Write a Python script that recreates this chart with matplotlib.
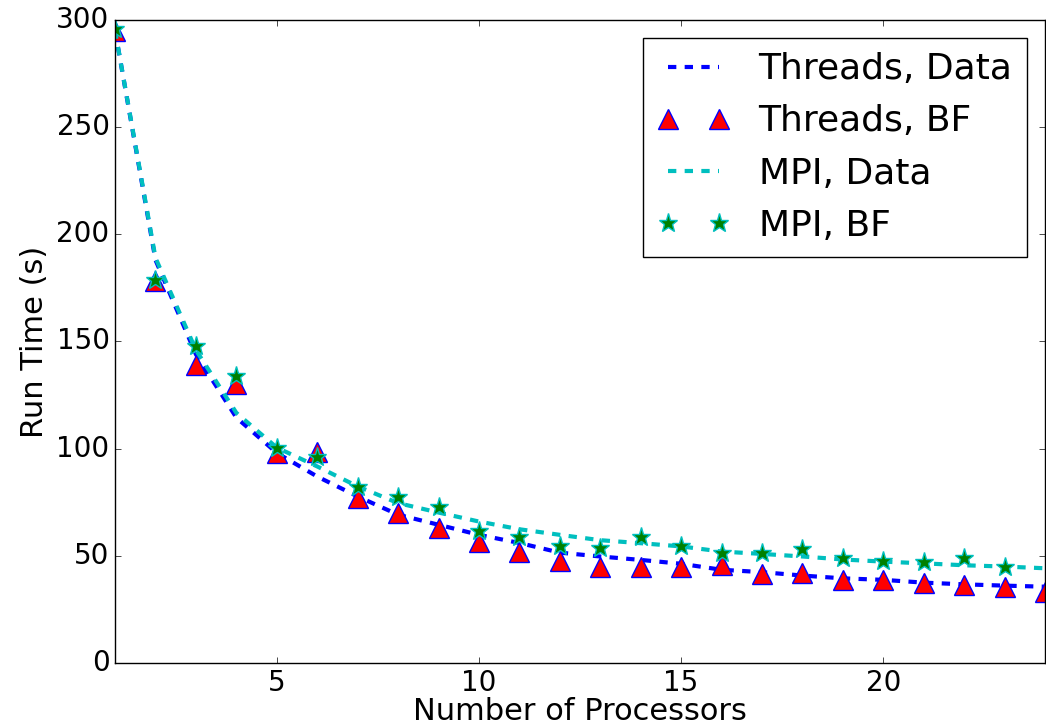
import numpy as np
import matplotlib
matplotlib.use("Agg")
import matplotlib.pyplot as plt

# number of processors
procs = np.arange(1, 25)
procs_mpi_bf = np.arange(1, 24)

# run times (s)
threads_data = [295, 188, 144, 114.5, 98, 87, 77.7, 69.2, 64.5, 59.8, 56, 51.5,
                49.7, 48.1, 46.3, 43.5, 42.4, 40.8, 39.5, 38.8, 37.5, 36.7, 36.1, 35.6]
threads_bf = [295, 178, 139, 130, 98, 98.5, 77, 70, 63, 56.5, 52, 47.7,
              45, 45, 45, 45.5, 41.6, 42, 38.8, 38.5, 37.3, 36.4, 35.6, 33]
mpi_data = [295, 189, 146, 116.7, 100.5, 91.7, 82.4, 74.6, 70.2, 66, 62.4, 59.8,
            57.3, 55.9, 54.4, 52, 50.9, 49.7, 48.3, 47.3, 46.5, 45.6, 45, 44.2]
mpi_bf = [296, 178.5, 148, 134, 100.5, 96, 82, 77.6, 73, 61.7, 58.9, 54.8,
          53.8, 59, 54.7, 51.3, 51.5, 53.3, 49.2, 47.7, 47.3, 49, 45]

xticks = [5, 10, 15, 20]
yticks = [0, 50, 100, 150, 200, 250, 300]

plt.style.use("classic")
plt.rcParams["font.family"] = ["DejaVu Sans"]
plt.rcParams["figure.facecolor"] = "white"
plt.rcParams["savefig.facecolor"] = "white"

fig = plt.figure(figsize=(10.46, 7.25), dpi=100)
ax = fig.add_axes([0.110, 0.0855, 0.889, 0.887])

ax.plot(procs, threads_data, "b--", lw=3, label="Threads, Data")
ax.plot(procs, threads_bf, "^", color="r", mec="b", ms=14.5, mew=1,
        label="Threads, BF")
ax.plot(procs, mpi_data, "--", color="c", lw=3, label="MPI, Data")
ax.plot(procs_mpi_bf, mpi_bf, "*", color="g", mec="c", ms=14, mew=1,
        label="MPI, BF")

ax.set_xlim(1, 24)
ax.set_ylim(0, 300)
ax.set_xticks(xticks)
ax.set_yticks(yticks)
ax.tick_params(labelsize=20)
ax.set_xlabel("Number of Processors", fontsize=22, labelpad=0)
ax.set_ylabel("Run Time (s)", fontsize=22)

ax.legend(loc="upper right", fontsize=26, numpoints=2)

fig.savefig("out.png", dpi=100)
